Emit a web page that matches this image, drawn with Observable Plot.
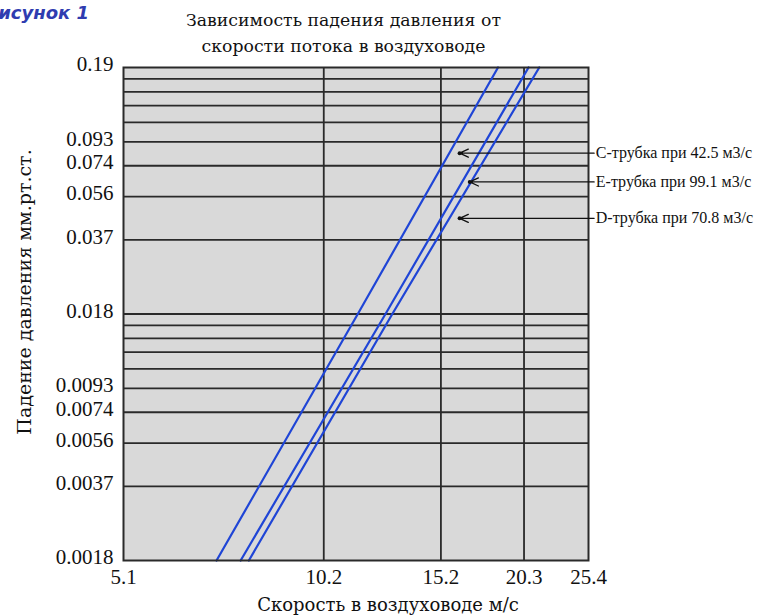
<!DOCTYPE html>
<html><head><meta charset="utf-8">
<script src="https://cdn.jsdelivr.net/npm/d3@7"></script>
<script src="https://cdn.jsdelivr.net/npm/@observablehq/plot@0.6"></script>
<style>
body{margin:0;background:#fff;width:774px;height:615px;overflow:hidden;position:relative;font-family:"Liberation Serif",serif;color:#111;}
#chart{position:absolute;left:0;top:0;}
#fig{position:absolute;left:-15px;top:2px;font-family:"DejaVu Sans",Verdana,sans-serif;font-weight:bold;font-style:italic;color:#2f3cb0;font-size:18px;}
#title{position:absolute;left:0;width:687px;top:7px;text-align:center;font-family:"DejaVu Serif",serif;font-size:17.3px;line-height:26px;}
#xlab{position:absolute;left:388px;top:604px;transform:translate(-50%,-50%);white-space:nowrap;font-family:"DejaVu Serif",serif;font-size:18px;}
#ylab{position:absolute;left:24px;top:292px;transform:translate(-50%,-50%) rotate(-90deg);white-space:nowrap;font-family:"DejaVu Serif",serif;font-size:19px;}
</style></head><body>
<div id="chart"></div>
<div id="fig">Рисунок 1</div>
<div id="title">Зависимость падения давления от<br>скорости потока в воздуховоде</div>
<div id="xlab">Скорость в воздуховоде м/с</div>
<div id="ylab">Падение давления мм.рт.ст.</div>
<script>
// axes
const xTicks = [5.08, 10.16, 15.24, 20.32, 25.4];
const xTickLabels = ["5.1", "10.2", "15.2", "20.3", "25.4"];
const xGrid = [10.16, 15.24, 20.32];
const yTicks = [0.00187, 0.00374, 0.0056, 0.00747, 0.00934, 0.0187, 0.0374, 0.056, 0.0747, 0.0934, 0.187];
const yTickLabels = ["0.0018", "0.0037", "0.0056", "0.0074", "0.0093", "0.018", "0.037", "0.056", "0.074", "0.093", "0.19"];
const yGrid = [0.00374, 0.0056, 0.00747, 0.00934, 0.0112, 0.0131, 0.0149, 0.0168, 0.0187,
               0.0374, 0.056, 0.0747, 0.0934, 0.112, 0.131, 0.149, 0.168];
// series (pressure drop vs velocity)
const seriesNames = ["C", "E", "D"];
const pressure = [0.00187, 0.0187, 0.187];
const velC = [7.01, 11.43, 18.57];
const velE = [7.62, 12.58, 20.64];
const velD = [7.84, 12.88, 21.42];
// annotations
const labelTexts = ["C-трубка при 42.5 м3/с", "E-трубка при 99.1 м3/с", "D-трубка при 70.8 м3/с"];
const labelY = [0.084, 0.0642, 0.0457];
const arrowTipX = [16.26, 16.84, 16.26];
const arrowStartX = 25.9;
const labelX = 26.05;

const vels = [velC, velE, velD];
const lineData = seriesNames.flatMap((s, k) => pressure.map((p, i) => ({s, p, v: vels[k][i]})));
const ann = labelTexts.map((t, i) => ({t, y: labelY[i], tip: arrowTipX[i], start: arrowStartX, lx: labelX}));
const yTickData = yTicks.map((v, i) => ({v, t: yTickLabels[i]}));
const xTickData = xTicks.map((v, i) => ({v, t: xTickLabels[i]}));

const plot = Plot.plot({
  width: 774, height: 615,
  marginLeft: 123, marginRight: 186, marginTop: 67, marginBottom: 55,
  x: {type: "log", domain: [5.08, 25.4], axis: null},
  y: {type: "log", domain: [0.00187, 0.187], axis: null},
  style: {fontFamily: "Liberation Serif, serif", background: "transparent", color: "#111"},
  marks: [
    Plot.frame({fill: "#d9d9d9", stroke: null}),
    Plot.ruleY(yGrid, {stroke: "#2a2a2a", strokeWidth: 1.8}),
    Plot.ruleX(xGrid, {stroke: "#2a2a2a", strokeWidth: 1.8}),
    Plot.line(lineData, {x: "v", y: "p", z: "s", stroke: "#1f45d6", strokeWidth: 2.2}),
    Plot.frame({stroke: "#2a2a2a", strokeWidth: 2}),
    Plot.arrow(ann, {x1: "start", y1: "y", x2: "tip", y2: "y", stroke: "#111", strokeWidth: 1.3, headLength: 11, headAngle: 50}),
    Plot.dot(ann, {x: "tip", y: "y", r: 2, fill: "#111"}),
    Plot.text(ann, {x: "lx", y: "y", text: "t", textAnchor: "start", fontSize: 16, fill: "#111"}),
    Plot.text(xTickData, {x: "v", text: "t", frameAnchor: "bottom", lineAnchor: "top", dy: 9, fontSize: 21, fill: "#111"}),
    Plot.text(yTickData, {y: "v", text: "t", frameAnchor: "left", textAnchor: "end", dx: -10, dy: -3, fontSize: 21, fill: "#111"})
  ]
});
document.getElementById("chart").appendChild(plot);
</script>
</body></html>
